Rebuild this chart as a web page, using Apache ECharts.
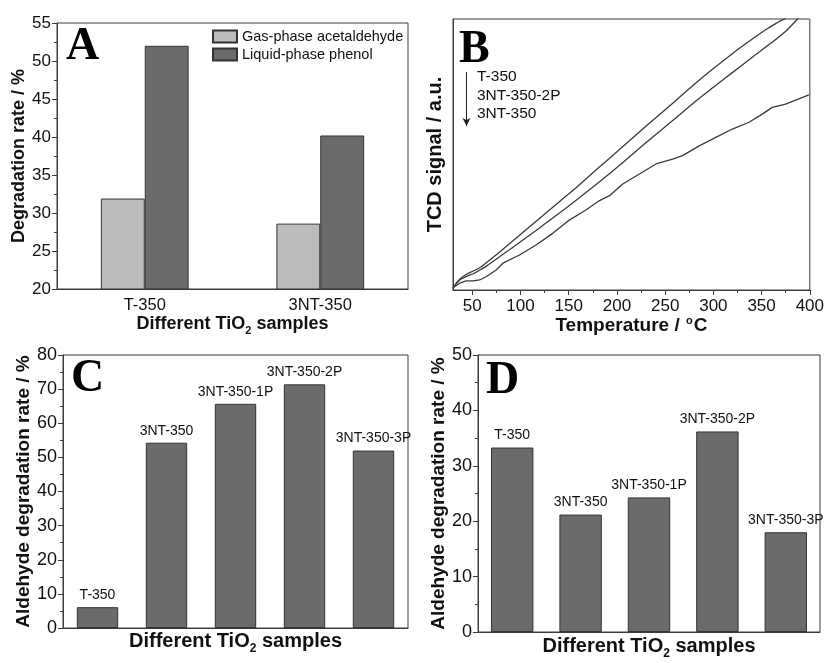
<!DOCTYPE html>
<html>
<head>
<meta charset="utf-8">
<script src="https://cdn.jsdelivr.net/npm/echarts@6/dist/echarts.min.js"></script>
<style>
  html, body { margin: 0; padding: 0; background: #fff; }
  #chart { width: 827px; height: 663px; }
</style>
</head>
<body>
<div id="chart"></div>
<script>
// Panel A: degradation of two pollutants
const aCategories = ['T-350', '3NT-350'];
const aGasPhase = [31.9, 28.6];
const aLiquidPhase = [52.0, 40.2];

// Panel B: TCD signal vs temperature, [°C, signal in a.u.]
const bTempLabels = [50, 100, 150, 200, 250, 300, 350, 400];
const bTempMinor = [75, 125, 175, 225, 275, 325, 375];
const bT350 = [
  [30, 0.8], [37, 4.0], [44, 5.8], [51, 7.0], [58, 8.3], [65, 10.2],
  [80, 14.5], [100, 20.5], [120, 26.5], [140, 32.5], [160, 38.5],
  [180, 44.8], [200, 51.0], [220, 57.3], [240, 63.5], [260, 69.6],
  [280, 75.8], [300, 81.7], [320, 87.3], [340, 92.5], [355, 96.2],
  [365, 98.4], [375, 100.3]
];
const bNT350_2P = [
  [30, 0.8], [37, 3.7], [44, 5.0], [51, 6.0], [58, 7.4], [65, 8.9],
  [80, 12.7], [100, 17.8], [120, 23.0], [140, 28.3], [160, 33.8],
  [180, 39.4], [200, 45.2], [220, 51.3], [240, 57.3], [260, 63.2],
  [280, 69.2], [300, 74.8], [320, 80.3], [340, 85.8], [360, 91.2],
  [375, 95.5], [388, 100.3]
];
const bNT350 = [
  [30, 0.8], [36.9, 2.5], [43.7, 3.4], [50.7, 3.4], [57.6, 3.7], [64.4, 4.9],
  [74.8, 7.4], [81.7, 9.9], [98.9, 12.9], [116.1, 16.6], [133.4, 20.9],
  [150.6, 25.8], [167.8, 29.5], [182, 33.0], [192.3, 34.8], [206, 39.1],
  [223.3, 42.8], [240.5, 46.5], [257.7, 48.3], [268, 49.6], [285.3, 53.2],
  [302.5, 56.3], [319.7, 59.4], [337, 61.9], [350.7, 64.9], [361, 67.4],
  [374.9, 68.6], [388.6, 70.5], [399, 72.0]
];
const bLegendNames = ['T-350', '3NT-350-2P', '3NT-350'];

// Panels C and D: aldehyde degradation per sample
const sampleNames = ['T-350', '3NT-350', '3NT-350-1P', '3NT-350-2P', '3NT-350-3P'];
const cValues = [6.1, 54.3, 65.7, 71.4, 52.0];
const dValues = [33.3, 21.2, 24.3, 36.2, 18.0];

const SANS = 'Liberation Sans';
const INK = '#111';
const FRAME = '#3c3c3c';

const gridBox = { show: true, borderColor: FRAME, borderWidth: 1, backgroundColor: 'transparent' };

// rich-text styles for the subscript in "TiO2"
function tioName(size) {
  const sub = Math.round(size * 0.62);
  return {
    fontFamily: SANS, fontWeight: 'bold', fontSize: size, color: INK,
    rich: {
      m: { fontFamily: SANS, fontWeight: 'bold', fontSize: size, color: INK, lineHeight: size + 2, verticalAlign: 'top' },
      s: { fontFamily: SANS, fontWeight: 'bold', fontSize: sub, color: INK,
           lineHeight: sub, verticalAlign: 'top', padding: [sub, 0, 0, 0] }
    }
  };
}
const tioText = '{m|Different TiO}{s|2}{m| samples}';

function valueY(gridIndex, min, max, interval, name, gap, labelSize, minorSplit) {
  return {
    type: 'value', gridIndex, min, max, interval,
    name, nameLocation: 'middle', nameGap: gap,
    nameTextStyle: { fontFamily: SANS, fontWeight: 'bold', fontSize: labelSize + 1, color: INK },
    axisLine: { show: true, lineStyle: { color: FRAME, width: 1 } },
    axisTick: { show: true, inside: false, length: 5, lineStyle: { color: FRAME } },
    minorTick: { show: true, splitNumber: minorSplit, length: 3, lineStyle: { color: FRAME } },
    axisLabel: { fontFamily: SANS, fontSize: labelSize, color: INK, margin: 6 },
    splitLine: { show: false }
  };
}

const chart = echarts.init(document.getElementById('chart'), null, { renderer: 'canvas' });

const barBorder = { borderColor: '#333', borderWidth: 1 };
const curveStyle = { color: '#3a3a3a', width: 1.3 };
const letterFont = 'bold 46px "Liberation Serif"';
const noteFont = '15.5px "Liberation Sans"';

chart.setOption({
  animation: false,
  backgroundColor: '#fff',
  textStyle: { fontFamily: SANS },
  grid: [
    Object.assign({ left: 57, top: 23, width: 351, height: 266 }, gridBox),
    Object.assign({ left: 453, top: 19, width: 358, height: 271 }, gridBox),
    Object.assign({ left: 63, top: 355, width: 345, height: 273 }, gridBox),
    Object.assign({ left: 478, top: 355, width: 342, height: 277 }, gridBox)
  ],
  legend: {
    data: ['Gas-phase acetaldehyde', 'Liquid-phase phenol'],
    orient: 'vertical', left: 207, top: 24,
    itemWidth: 24, itemHeight: 12, itemGap: 3,
    icon: 'rect',
    textStyle: { fontFamily: SANS, fontSize: 14.5, color: INK }
  },
  xAxis: [
    {
      type: 'category', gridIndex: 0, data: aCategories,
      name: tioText, nameLocation: 'middle', nameGap: 23, nameTextStyle: tioName(18),
      axisLine: { lineStyle: { color: FRAME } },
      axisTick: { show: false },
      axisLabel: { fontFamily: SANS, fontSize: 16.5, color: INK, margin: 8 }
    },
    {
      type: 'value', gridIndex: 1, min: 30, max: 400,
      name: '{m|Temperature / }{sup|o}{m|C}', nameLocation: 'middle', nameGap: 24,
      nameTextStyle: {
        fontFamily: SANS, fontWeight: 'bold', fontSize: 19, color: INK,
        rich: {
          m: { fontFamily: SANS, fontWeight: 'bold', fontSize: 19, color: INK, lineHeight: 20 },
          sup: { fontFamily: SANS, fontWeight: 'bold', fontSize: 11, color: INK, lineHeight: 11, verticalAlign: 'top', padding: [0, 1, 0, 1] }
        }
      },
      axisLine: { lineStyle: { color: FRAME } },
      axisTick: { show: true, length: 5, customValues: bTempLabels, lineStyle: { color: FRAME } },
      axisLabel: { fontFamily: SANS, fontSize: 17, color: INK, margin: 8, customValues: bTempLabels },
      splitLine: { show: false }
    },
    {
      type: 'value', gridIndex: 1, min: 30, max: 400, position: 'bottom',
      axisLine: { show: false },
      axisTick: { show: true, length: 3, customValues: bTempMinor, lineStyle: { color: FRAME } },
      axisLabel: { show: false },
      splitLine: { show: false }
    },
    {
      type: 'category', gridIndex: 2, data: sampleNames,
      name: tioText, nameLocation: 'middle', nameGap: 3, nameTextStyle: tioName(20),
      axisLine: { lineStyle: { color: FRAME } },
      axisTick: { show: false },
      axisLabel: { show: false }
    },
    {
      type: 'category', gridIndex: 3, data: sampleNames,
      name: tioText, nameLocation: 'middle', nameGap: 4, nameTextStyle: tioName(20),
      axisLine: { lineStyle: { color: FRAME } },
      axisTick: { show: false },
      axisLabel: { show: false }
    }
  ],
  yAxis: [
    valueY(0, 20, 55, 5, 'Degradation rate / %', 25, 17, 2),
    {
      type: 'value', gridIndex: 1, min: 0, max: 100,
      name: 'TCD signal / a.u.', nameLocation: 'middle', nameGap: 8,
      nameTextStyle: { fontFamily: SANS, fontWeight: 'bold', fontSize: 20, color: INK },
      axisLine: { show: true, lineStyle: { color: FRAME } },
      axisTick: { show: false }, axisLabel: { show: false }, splitLine: { show: false }
    },
    valueY(2, 0, 80, 10, 'Aldehyde degradation rate / %', 28, 18, 2),
    valueY(3, 0, 50, 10, 'Aldehyde degradation rate / %', 30, 18, 2)
  ],
  series: [
    {
      name: 'Gas-phase acetaldehyde', type: 'bar', xAxisIndex: 0, yAxisIndex: 0,
      data: aGasPhase, barGap: '0%', barCategoryGap: '50%',
      itemStyle: Object.assign({ color: '#bcbcbc' }, barBorder)
    },
    {
      name: 'Liquid-phase phenol', type: 'bar', xAxisIndex: 0, yAxisIndex: 0,
      data: aLiquidPhase, barGap: '0%', barCategoryGap: '50%',
      itemStyle: Object.assign({ color: '#6b6b6b' }, barBorder)
    },
    {
      name: bLegendNames[0], type: 'line', xAxisIndex: 1, yAxisIndex: 1,
      data: bT350, showSymbol: false, smooth: 0.3, lineStyle: curveStyle
    },
    {
      name: bLegendNames[1], type: 'line', xAxisIndex: 1, yAxisIndex: 1,
      data: bNT350_2P, showSymbol: false, smooth: 0.3, lineStyle: curveStyle
    },
    {
      name: bLegendNames[2], type: 'line', xAxisIndex: 1, yAxisIndex: 1,
      data: bNT350, showSymbol: false, smooth: false, lineStyle: curveStyle,
      markLine: {
        silent: true, symbol: ['none', 'arrow'], symbolSize: [6, 8],
        lineStyle: { color: '#222', width: 1, type: 'solid' },
        label: { show: false },
        data: [[{ coord: [44, 80.5] }, { coord: [44, 60.5] }]]
      }
    },
    {
      name: 'C', type: 'bar', xAxisIndex: 3, yAxisIndex: 2,
      data: cValues, barCategoryGap: '40%',
      itemStyle: Object.assign({ color: '#6b6b6b' }, barBorder),
      label: { show: true, position: 'top', distance: 5, formatter: '{b}', fontFamily: SANS, fontSize: 14, color: INK }
    },
    {
      name: 'D', type: 'bar', xAxisIndex: 4, yAxisIndex: 3,
      data: dValues, barCategoryGap: '38%',
      itemStyle: Object.assign({ color: '#6b6b6b' }, barBorder),
      label: { show: true, position: 'top', distance: 5, formatter: '{b}', fontFamily: SANS, fontSize: 14, color: INK }
    }
  ],
  graphic: [
    { type: 'text', left: 66, top: 24, style: { text: 'A', font: letterFont, fill: '#000' } },
    { type: 'text', left: 459, top: 27, style: { text: 'B', font: letterFont, fill: '#000' } },
    { type: 'text', left: 71, top: 356, style: { text: 'C', font: letterFont, fill: '#000' } },
    { type: 'text', left: 486, top: 358, style: { text: 'D', font: letterFont, fill: '#000' } },
    { type: 'text', left: 477, top: 69, style: { text: bLegendNames[0], font: noteFont, fill: INK } },
    { type: 'text', left: 477, top: 88, style: { text: bLegendNames[1], font: noteFont, fill: INK } },
    { type: 'text', left: 477, top: 106, style: { text: bLegendNames[2], font: noteFont, fill: INK } }
  ]
});
</script>
</body>
</html>
